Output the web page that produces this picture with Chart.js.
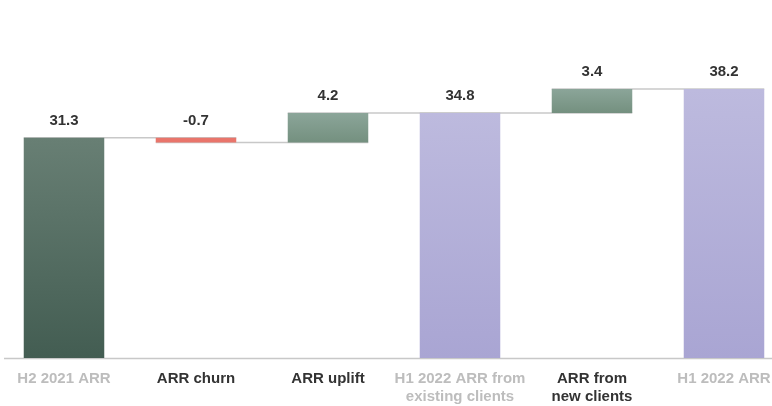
<!DOCTYPE html>
<html>
<head>
<meta charset="utf-8">
<script src="https://cdn.jsdelivr.net/npm/chart.js@4"></script>
<style>
    html, body { margin: 0; padding: 0; background: #fff; overflow: hidden; }
    #wrap { position: absolute; left: -2px; top: 0; width: 792px; height: 418px; }
</style>
</head>
<body>
<div id="wrap"><canvas id="arrChart"></canvas></div>
<script>
// Données du graphique en cascade
const categories = [
    'H2 2021 ARR',
    'ARR churn',
    'ARR uplift',
    ['H1 2022 ARR from', 'existing clients'],
    ['ARR from', 'new clients'],
    'H1 2022 ARR'
];
const steps = [31.3, -0.7, 4.2, 34.8, 3.4, 38.2];
const isTotal = [true, false, false, true, false, true];
const valueLabels = ['31.3', '-0.7', '4.2', '34.8', '3.4', '38.2'];
const labelColors = ['#bdbdbd', '#333333', '#333333', '#bdbdbd', '#333333', '#bdbdbd'];

// Couleurs (haut, bas) de chaque barre
const barTop = ['#687f74', '#e9756b', '#8ba599', '#bdbade', '#8ba599', '#bdbade'];
const barBottom = ['#435d52', '#e9756b', '#74907f', '#a9a5d3', '#74907f', '#a9a5d3'];

// Barres flottantes [début, fin]
const ranges = [];
let running = 0;
steps.forEach((v, i) => {
    if (isTotal[i]) {
        ranges.push([0, v]);
        running = v;
    } else {
        const start = running;
        running = +(running + v).toFixed(1);
        ranges.push([start, running]);
    }
});

const connectorPlugin = {
    id: 'connectors',
    beforeDatasetsDraw(chart) {
        const c = chart.ctx;
        const meta = chart.getDatasetMeta(0);
        const y = chart.scales.y;
        c.save();
        c.strokeStyle = '#c8c8c8';
        c.lineWidth = 1.5;
        // ligne de base
        c.beginPath();
        c.moveTo(chart.chartArea.left + 6, chart.chartArea.bottom + 0.5);
        c.lineTo(chart.chartArea.right, chart.chartArea.bottom + 0.5);
        c.stroke();
        for (let i = 0; i < meta.data.length - 1; i++) {
            const a = meta.data[i], b = meta.data[i + 1];
            const py = y.getPixelForValue(ranges[i][1]);
            c.beginPath();
            c.moveTo(a.x - a.width / 2, py);
            c.lineTo(b.x + b.width / 2, py);
            c.stroke();
        }
        c.restore();
    },
    afterDatasetsDraw(chart) {
        const c = chart.ctx;
        const meta = chart.getDatasetMeta(0);
        const y = chart.scales.y;
        c.save();
        c.font = 'bold 15px "Liberation Sans", Arial, sans-serif';
        c.fillStyle = '#333333';
        c.textAlign = 'center';
        c.textBaseline = 'middle';
        meta.data.forEach((bar, i) => {
            const top = y.getPixelForValue(Math.max(ranges[i][0], ranges[i][1]));
            c.fillText(valueLabels[i], bar.x, top - 17);
        });
        c.restore();
    }
};

new Chart(document.getElementById('arrChart'), {
    type: 'bar',
    data: {
        labels: categories,
        datasets: [{
            data: ranges,
            backgroundColor: function(context) {
                const chart = context.chart;
                const i = context.dataIndex;
                if (!chart.chartArea || i === undefined) return barTop[i] || '#888';
                const y = chart.scales.y;
                const y0 = y.getPixelForValue(Math.max(ranges[i][0], ranges[i][1]));
                const y1 = y.getPixelForValue(Math.min(ranges[i][0], ranges[i][1]));
                const g = chart.ctx.createLinearGradient(0, y0, 0, y1 + 0.01);
                g.addColorStop(0, barTop[i]);
                g.addColorStop(1, barBottom[i]);
                return g;
            },
            borderWidth: 0,
            borderSkipped: false,
            categoryPercentage: 1,
            barPercentage: 0.61
        }]
    },
    options: {
        responsive: true,
        maintainAspectRatio: false,
        animation: false,
        layout: { padding: { top: 6, left: 0, right: 0, bottom: 0 } },
        plugins: {
            legend: { display: false },
            tooltip: { enabled: false }
        },
        scales: {
            x: {
                grid: { display: false, drawTicks: false },
                border: { display: false },
                ticks: {
                    padding: 12,
                    maxRotation: 0,
                    autoSkip: false,
                    color: (c) => labelColors[c.index],
                    font: { family: '"Liberation Sans", Arial, sans-serif', size: 15, weight: 'bold', lineHeight: 1.2 }
                }
            },
            y: {
                display: false,
                min: 0,
                max: 50
            }
        }
    },
    plugins: [connectorPlugin]
});
</script>
</body>
</html>
